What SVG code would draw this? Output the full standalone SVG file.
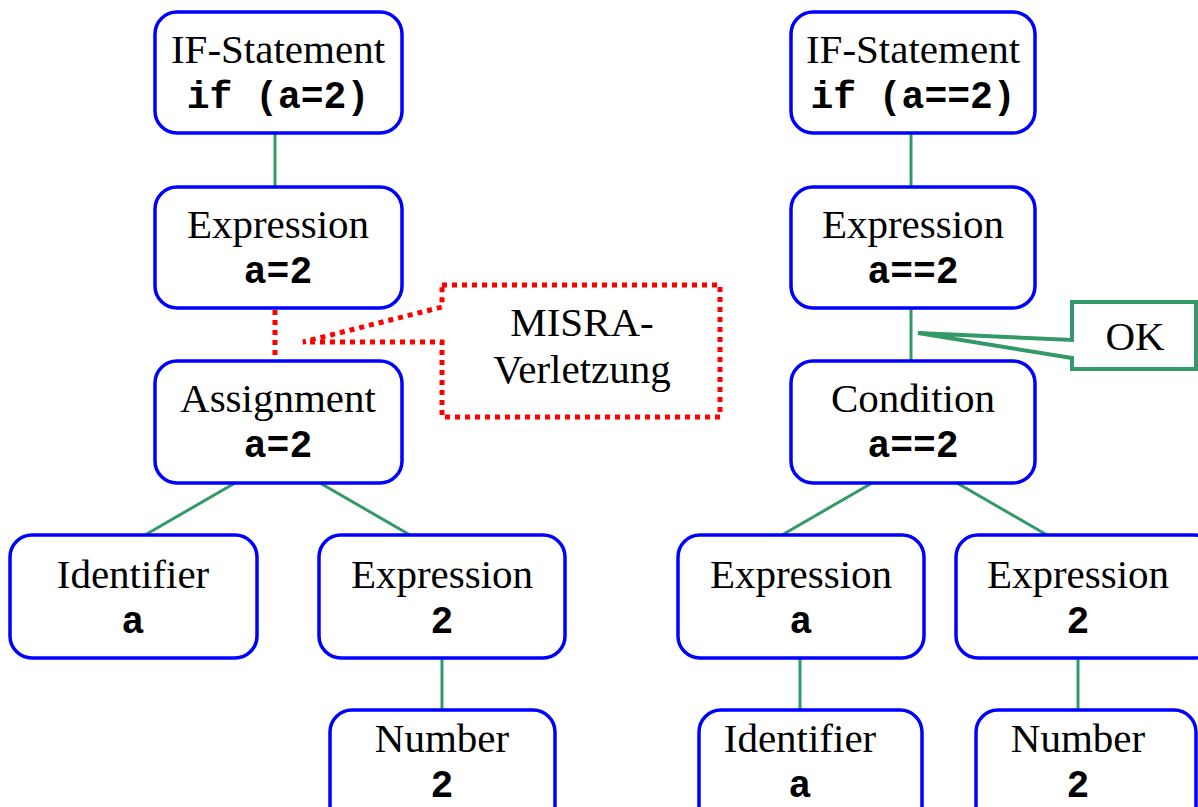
<svg xmlns="http://www.w3.org/2000/svg" width="1198" height="807" viewBox="0 0 1198 807">
<style>
.box{fill:#fff;stroke:#0000ff;stroke-width:3.5}
.t{font-family:"Liberation Serif","Times New Roman",serif;font-size:41px;text-anchor:middle;fill:#000}
.m{font-family:"Liberation Mono","Courier New",monospace;font-size:38px;font-weight:bold;text-anchor:middle;fill:#000}
.edge{stroke:#339966;stroke-width:3;fill:none}
.red{stroke:#ff0000;stroke-width:5;fill:none;stroke-dasharray:5 5}
</style>
<rect width="1198" height="807" fill="#fff"/>
<g id="connectors">
<line class="edge" x1="275" y1="133" x2="275" y2="187"/>
<line class="red" x1="275" y1="310" x2="275" y2="361"/>
<line class="edge" x1="235" y1="483" x2="145" y2="535"/>
<line class="edge" x1="320" y1="483" x2="410" y2="535"/>
<line class="edge" x1="442" y1="658" x2="442" y2="710"/>
<line class="edge" x1="911" y1="133" x2="911" y2="187"/>
<line class="edge" x1="911" y1="308" x2="911" y2="361"/>
<line class="edge" x1="872" y1="483" x2="782" y2="535"/>
<line class="edge" x1="957" y1="483" x2="1047" y2="535"/>
<line class="edge" x1="800" y1="658" x2="800" y2="710"/>
<line class="edge" x1="1078" y1="658" x2="1078" y2="710"/>
</g>
<g id="misra">
<polygon class="red" fill="#fff" points="442,285 720,285 720,417 442,417 442,342 303,342 442,307" style="fill:#fff"/>
<text class="t" x="582" y="336">MISRA-</text>
<text class="t" x="582" y="383">Verletzung</text>
</g>
<g id="ok">
<polygon points="1072,302 1196,302 1196,369 1072,369 1072,358 918,333 1072,340" fill="#fff" stroke="#339966" stroke-width="4"/>
<text class="t" x="1135" y="350">OK</text>
</g>
<g id="l_if"><rect class="box" x="155" y="12" width="247" height="121" rx="22"/><text class="t" x="278" y="63">IF-Statement</text><text class="m" x="278" y="108">if (a=2)</text></g>
<g id="l_expr"><rect class="box" x="155" y="187" width="247" height="121" rx="22"/><text class="t" x="278" y="238">Expression</text><text class="m" x="278" y="283">a=2</text></g>
<g id="l_assign"><rect class="box" x="155" y="361" width="247" height="122" rx="22"/><text class="t" x="278" y="412">Assignment</text><text class="m" x="278" y="457">a=2</text></g>
<g id="l_ident"><rect class="box" x="10" y="535" width="247" height="123" rx="22"/><text class="t" x="133" y="588">Identifier</text><text class="m" x="133" y="633">a</text></g>
<g id="l_expr2"><rect class="box" x="319" y="535" width="246" height="123" rx="22"/><text class="t" x="442" y="588">Expression</text><text class="m" x="442" y="633">2</text></g>
<g id="l_num"><rect class="box" x="330" y="710" width="225" height="120" rx="22"/><text class="t" x="442" y="752">Number</text><text class="m" x="442" y="797">2</text></g>
<g id="r_if"><rect class="box" x="791" y="12" width="244" height="121" rx="22"/><text class="t" x="913" y="63">IF-Statement</text><text class="m" x="913" y="108">if (a==2)</text></g>
<g id="r_expr"><rect class="box" x="791" y="187" width="244" height="121" rx="22"/><text class="t" x="913" y="238">Expression</text><text class="m" x="913" y="283">a==2</text></g>
<g id="r_cond"><rect class="box" x="791" y="361" width="244" height="122" rx="22"/><text class="t" x="913" y="412">Condition</text><text class="m" x="913" y="457">a==2</text></g>
<g id="r_expra"><rect class="box" x="678" y="535" width="246" height="123" rx="22"/><text class="t" x="801" y="588">Expression</text><text class="m" x="801" y="633">a</text></g>
<g id="r_expr2"><rect class="box" x="956" y="535" width="260" height="123" rx="22"/><text class="t" x="1078" y="588">Expression</text><text class="m" x="1078" y="633">2</text></g>
<g id="r_ident"><rect class="box" x="699" y="710" width="223" height="120" rx="22"/><text class="t" x="800" y="752">Identifier</text><text class="m" x="800" y="797">a</text></g>
<g id="r_num"><rect class="box" x="976" y="710" width="220" height="120" rx="22"/><text class="t" x="1078" y="752">Number</text><text class="m" x="1078" y="797">2</text></g>
</svg>
